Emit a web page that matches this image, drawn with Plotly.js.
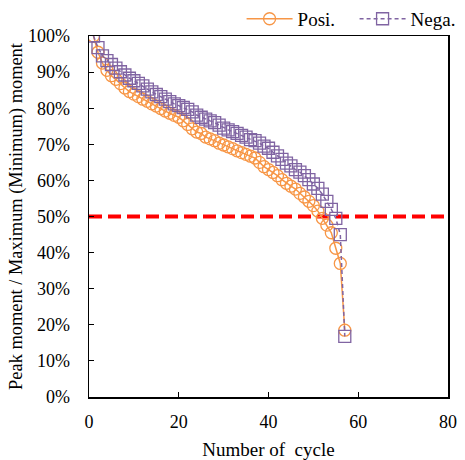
<!DOCTYPE html>
<html><head><meta charset="utf-8">
<script src="https://cdn.plot.ly/plotly-3.0.1.min.js"></script>
<style>html,body{margin:0;padding:0;background:#fff}#c{width:465px;height:460px}</style>
</head><body><div id="c"></div>
<script>
const cycles = Array.from({length:57},(_,i)=>i+1);
const posi = [100,95.5,92.5,90.5,89,88,86.8,85.6,84.6,83.9,83.2,82.5,81.9,81.2,80.6,79.9,79.2,78.6,78,77.5,
76.5,75.5,74.3,73.4,73,72,71.5,71,70.3,69.8,69.3,68.8,68.2,67.7,67.2,66.7,66.2,65,63.8,63,
62.2,61.3,60.2,59.2,58.4,57.6,56.4,55.4,54.2,53,51.5,49.5,47.6,45.5,41.2,37,18.5];
const nega = [100,96.8,94.5,93.2,92.1,91.1,90.1,89.2,88.3,87.6,86.9,86.2,85.3,84.5,83.8,83.2,82.5,81.8,81.2,80.7,
80.2,79.7,79,78.1,77.5,77,76.5,76,75.3,74.5,74,73.5,73,72.5,72,71.3,71,70.3,69.5,68.9,
67.8,66.8,65.8,64.8,64,63,62.3,61.3,60.2,59,57.8,56.2,54.2,52,49.5,45,16.8];
const refX = [0,80];
const refY = [50,50];
const yTicks = [0,10,20,30,40,50,60,70,80,90,100];
const yTickText = yTicks.map(v=>v+'%');

const fam = '"Liberation Serif", "Times New Roman", serif';
const tickFont = {family:fam, size:18, color:'#000'};
const xTitleFont = {family:fam, size:19, color:'#000'};
const yTitleFont = {family:fam, size:18.4, color:'#000'};
const legFont = {family:fam, size:19, color:'#000'};
const traces = [
 {x:refX,y:refY,mode:'lines',line:{color:'#ff0000',width:4,dash:'13px,6px'},showlegend:false,hoverinfo:'skip'},
 {x:cycles,y:posi,name:'Posi.',mode:'lines+markers',line:{color:'#F79646',width:1.5},
  marker:{symbol:'circle-open',size:12,color:'#F79646',line:{width:1.3,color:'#F79646'}}},
 {x:cycles,y:nega,name:'Nega.',mode:'lines+markers',line:{color:'#8064A2',width:1.5,dash:'4px,3px'},
  marker:{symbol:'square-open',size:12,color:'#8064A2',line:{width:1.3,color:'#8064A2'}}}
];
const layout = {
 width:465,height:460,margin:{l:89,r:17,t:36,b:63,autoexpand:false},
 paper_bgcolor:'#fff',plot_bgcolor:'#fff',font:tickFont,
 showlegend:true,
 legend:{orientation:'h',x:0.425,xanchor:'left',y:1.1,yanchor:'top',font:legFont,bgcolor:'rgba(0,0,0,0)',
  itemwidth:46,entrywidth:52,entrywidthmode:'pixels',tracegroupgap:0},
 xaxis:{range:[0,80],tickvals:[0,20,40,60,80],ticks:'inside',ticklen:5,tickcolor:'#000',ticklabelstandoff:8,
  showline:true,linecolor:'#000',linewidth:1.5,mirror:true,showgrid:false,zeroline:false,automargin:false,
  title:{text:'Number of &nbsp;cycle',font:xTitleFont,standoff:12},tickfont:tickFont},
 yaxis:{range:[0,100],tickvals:yTicks,ticktext:yTickText,ticks:'inside',ticklen:5,tickcolor:'#000',ticklabelstandoff:14,
  showline:true,linecolor:'#000',linewidth:1.5,mirror:true,showgrid:false,zeroline:false,automargin:false,
  title:{text:'Peak moment / Maximum (Minimum) moment',font:yTitleFont,standoff:0},tickfont:tickFont}
};
Plotly.newPlot('c',traces,layout,{displayModeBar:false,staticPlot:true});
</script></body></html>
